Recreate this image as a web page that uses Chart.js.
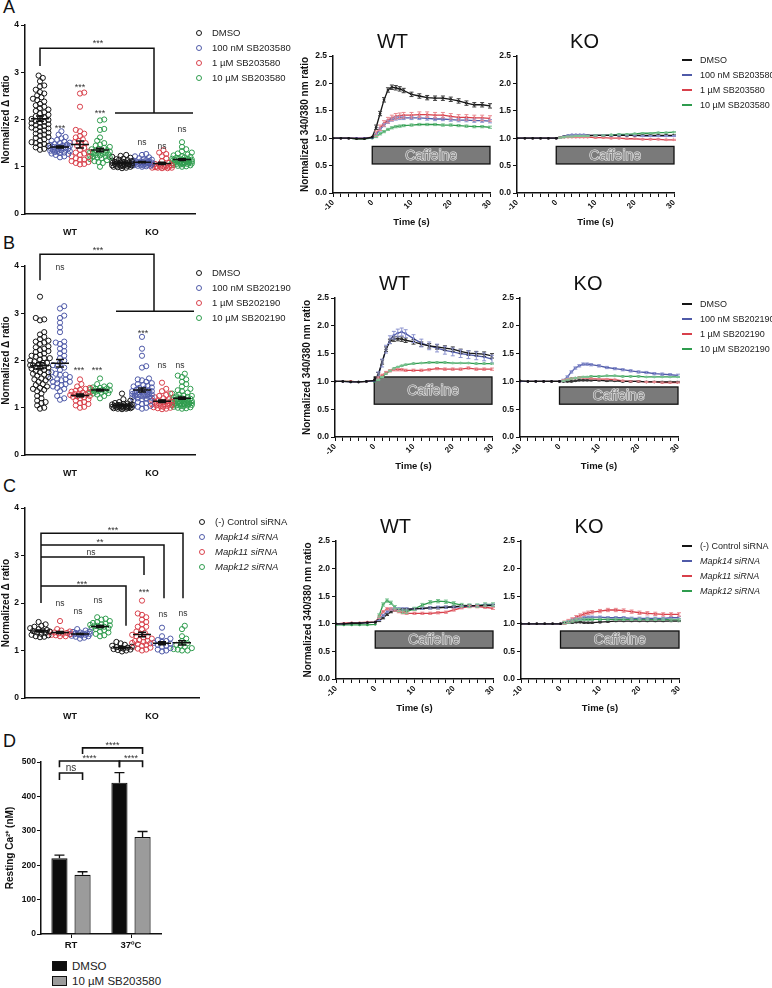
<!DOCTYPE html>
<html>
<head>
<meta charset="utf-8">
<script src="https://cdn.jsdelivr.net/npm/chart.js@4.4.1/dist/chart.umd.min.js"></script>
<style>
  body { margin: 0; background: #fff; width: 772px; height: 988px; position: relative; overflow: hidden; font-family: 'Liberation Sans', Arial, sans-serif; }
  canvas { position: absolute; }
  .panel { position: absolute; font-size: 18px; line-height: 18px; color: #111; }
  .leg { position: absolute; height: 14px; line-height: 14px; font-size: 9.5px; color: #222; white-space: nowrap; }
  .leg.lines { font-size: 9px; }
  .leg i { position: absolute; box-sizing: border-box; }
  .leg i.dot { left: 0; top: 4px; width: 6px; height: 6px; border: 1px solid; border-radius: 50%; }
  .leg i.dash { left: 0; top: 6px; width: 10px; height: 2px; }
  .leg i.sq { left: 0; top: 2px; width: 15px; height: 10px; border: 1.2px solid #111; }
  .leg span { position: absolute; }
</style>
</head>
<body>
<div class="panel" style="left:3px;top:-2px">A</div>
<div class="panel" style="left:3px;top:234px">B</div>
<div class="panel" style="left:3px;top:477px">C</div>
<div class="panel" style="left:3px;top:732px">D</div>
<script>
const scatterGroups = ['WT', 'KO'];
const sbA = ['DMSO', '100 nM SB203580', '1 µM SB203580', '10 µM SB203580'];
const sbB = ['DMSO', '100 nM SB202190', '1 µM SB202190', '10 µM SB202190'];
const sirna = ['(-) Control siRNA', 'Mapk14 siRNA', 'Mapk11 siRNA', 'Mapk12 siRNA'];

// panel A dot plot
const aWtDmso = [2.93, 2.88, 2.81, 2.72, 2.70, 2.63, 2.58, 2.55, 2.51, 2.47, 2.44, 2.41, 2.38, 2.33, 2.30, 2.27, 2.24, 2.21, 2.18, 2.15, 2.13, 2.10, 2.07, 2.05, 2.03, 2.01, 1.99, 1.97, 1.95, 1.93, 1.92, 1.90, 1.88, 1.86, 1.84, 1.83, 1.81, 1.79, 1.77, 1.75, 1.72, 1.70, 1.68, 1.66, 1.63, 1.61, 1.58, 1.55, 1.52, 1.50, 1.48, 1.46, 1.44, 1.41, 1.38, 1.36];
const aWtLow = [1.75, 1.68, 1.63, 1.60, 1.57, 1.55, 1.53, 1.51, 1.50, 1.48, 1.47, 1.46, 1.45, 1.44, 1.43, 1.42, 1.42, 1.41, 1.40, 1.40, 1.39, 1.38, 1.37, 1.36, 1.36, 1.35, 1.34, 1.33, 1.32, 1.31, 1.30, 1.29, 1.28, 1.27, 1.25, 1.22, 1.20];
const aWtMid = [2.57, 2.55, 2.27, 1.78, 1.75, 1.70, 1.65, 1.62, 1.58, 1.55, 1.52, 1.50, 1.47, 1.44, 1.40, 1.36, 1.32, 1.30, 1.28, 1.25, 1.22, 1.20, 1.18, 1.15, 1.15, 1.12, 1.10, 1.08, 1.06, 1.05];
const aWtHigh = [2.00, 1.98, 1.80, 1.78, 1.62, 1.55, 1.50, 1.47, 1.45, 1.42, 1.40, 1.38, 1.37, 1.35, 1.34, 1.33, 1.32, 1.31, 1.30, 1.29, 1.28, 1.27, 1.26, 1.25, 1.24, 1.23, 1.22, 1.21, 1.20, 1.19, 1.18, 1.16, 1.14, 1.12, 1.10, 1.08, 1.00];
const aKoDmso = [1.25, 1.23, 1.21, 1.19, 1.17, 1.16, 1.15, 1.14, 1.13, 1.12, 1.11, 1.10, 1.10, 1.09, 1.09, 1.08, 1.08, 1.07, 1.07, 1.06, 1.06, 1.05, 1.05, 1.04, 1.04, 1.03, 1.03, 1.02, 1.02, 1.01, 1.01, 1.00, 1.00, 0.99, 0.98, 0.97];
const aKoLow = [1.27, 1.25, 1.22, 1.20, 1.18, 1.16, 1.15, 1.14, 1.13, 1.12, 1.11, 1.11, 1.10, 1.10, 1.09, 1.09, 1.08, 1.08, 1.07, 1.07, 1.06, 1.06, 1.05, 1.05, 1.04, 1.04, 1.03, 1.03, 1.02, 1.02, 1.01, 1.00];
const aKoMid = [1.35, 1.30, 1.27, 1.22, 1.18, 1.12, 1.08, 1.06, 1.05, 1.04, 1.03, 1.02, 1.01, 1.00, 1.00, 0.99, 0.99, 0.98, 0.98, 0.97, 0.97, 0.98, 1.00];
const aKoHigh = [1.52, 1.42, 1.37, 1.33, 1.30, 1.28, 1.26, 1.24, 1.22, 1.21, 1.20, 1.19, 1.18, 1.17, 1.16, 1.15, 1.15, 1.14, 1.14, 1.13, 1.13, 1.12, 1.12, 1.11, 1.11, 1.10, 1.10, 1.09, 1.09, 1.08, 1.08, 1.07, 1.07, 1.06, 1.06, 1.05, 1.05, 1.04, 1.03, 1.02, 1.01, 1.00];

// panel B dot plot
const bWtDmso = [3.35, 2.90, 2.87, 2.85, 2.60, 2.55, 2.50, 2.45, 2.42, 2.40, 2.38, 2.35, 2.30, 2.28, 2.25, 2.22, 2.20, 2.18, 2.15, 2.12, 2.10, 2.08, 2.05, 2.05, 2.02, 2.00, 1.98, 1.95, 1.95, 1.92, 1.90, 1.90, 1.88, 1.86, 1.85, 1.85, 1.83, 1.80, 1.78, 1.75, 1.75, 1.72, 1.70, 1.68, 1.65, 1.62, 1.60, 1.58, 1.55, 1.50, 1.48, 1.45, 1.42, 1.40, 1.38, 1.35, 1.30, 1.25, 1.20, 1.15, 1.12, 1.10, 1.05, 1.00, 0.98];
const bWtLow = [3.15, 3.10, 2.95, 2.90, 2.80, 2.70, 2.60, 2.40, 2.38, 2.35, 2.30, 2.25, 2.20, 2.15, 2.10, 2.05, 2.00, 1.95, 1.90, 1.88, 1.85, 1.80, 1.75, 1.72, 1.70, 1.70, 1.65, 1.62, 1.60, 1.60, 1.58, 1.55, 1.55, 1.52, 1.50, 1.48, 1.45, 1.42, 1.40, 1.35, 1.25, 1.20, 1.17];
const bWtMid = [1.60, 1.50, 1.45, 1.42, 1.40, 1.38, 1.36, 1.34, 1.32, 1.31, 1.30, 1.29, 1.28, 1.27, 1.26, 1.25, 1.24, 1.23, 1.22, 1.20, 1.18, 1.15, 1.12, 1.10, 1.08, 1.05, 1.02, 1.00];
const bWtHigh = [1.62, 1.50, 1.47, 1.45, 1.43, 1.42, 1.41, 1.40, 1.39, 1.38, 1.37, 1.36, 1.36, 1.35, 1.34, 1.33, 1.32, 1.31, 1.30, 1.28, 1.25, 1.20];
const bKoDmso = [1.30, 1.18, 1.15, 1.12, 1.10, 1.09, 1.08, 1.07, 1.07, 1.06, 1.06, 1.05, 1.05, 1.04, 1.04, 1.03, 1.03, 1.02, 1.02, 1.02, 1.01, 1.01, 1.00, 1.00, 1.00, 0.99, 0.99, 0.98, 0.98, 0.97];
const bKoLow = [2.50, 2.25, 2.10, 1.88, 1.85, 1.62, 1.60, 1.58, 1.55, 1.52, 1.50, 1.48, 1.46, 1.45, 1.43, 1.42, 1.40, 1.38, 1.37, 1.36, 1.35, 1.35, 1.34, 1.33, 1.32, 1.30, 1.30, 1.29, 1.28, 1.27, 1.26, 1.25, 1.25, 1.24, 1.23, 1.22, 1.21, 1.20, 1.19, 1.18, 1.16, 1.14, 1.12, 1.10, 1.08, 1.06, 1.04, 1.02, 1.00, 0.98];
const bKoMid = [1.53, 1.40, 1.35, 1.30, 1.27, 1.25, 1.22, 1.20, 1.18, 1.16, 1.15, 1.14, 1.13, 1.12, 1.11, 1.10, 1.09, 1.08, 1.07, 1.06, 1.05, 1.04, 1.03, 1.02, 1.01, 1.00, 0.99, 0.98, 0.97];
const bKoHigh = [1.72, 1.68, 1.65, 1.60, 1.55, 1.50, 1.45, 1.40, 1.37, 1.35, 1.32, 1.30, 1.28, 1.26, 1.25, 1.24, 1.23, 1.22, 1.21, 1.20, 1.19, 1.18, 1.17, 1.16, 1.15, 1.15, 1.14, 1.14, 1.13, 1.13, 1.12, 1.12, 1.11, 1.11, 1.10, 1.10, 1.09, 1.09, 1.08, 1.08, 1.07, 1.07, 1.06, 1.06, 1.05, 1.05, 1.04, 1.03, 1.02, 1.01, 1.00, 0.99, 0.98];

// panel C dot plot (plot order: control, Mapk11, Mapk14, Mapk12)
const cWtCtrl = [1.60, 1.55, 1.52, 1.50, 1.47, 1.45, 1.43, 1.42, 1.41, 1.40, 1.38, 1.37, 1.35, 1.33, 1.32, 1.30, 1.29, 1.28];
const cWtMapk11 = [1.62, 1.45, 1.42, 1.40, 1.39, 1.38, 1.37, 1.36, 1.35, 1.34, 1.33, 1.32, 1.30, 1.30];
const cWtMapk14 = [1.45, 1.42, 1.40, 1.39, 1.38, 1.37, 1.36, 1.36, 1.35, 1.35, 1.34, 1.34, 1.33, 1.32, 1.31, 1.30, 1.29, 1.27, 1.25];
const cWtMapk12 = [1.70, 1.67, 1.65, 1.62, 1.60, 1.58, 1.56, 1.55, 1.54, 1.53, 1.52, 1.51, 1.50, 1.49, 1.48, 1.47, 1.45, 1.43, 1.40, 1.38, 1.35, 1.32, 1.30];
const cKoCtrl = [1.18, 1.15, 1.12, 1.10, 1.08, 1.07, 1.06, 1.05, 1.04, 1.03, 1.02, 1.01, 1.00, 0.98];
const cKoMapk11 = [2.05, 1.78, 1.75, 1.70, 1.65, 1.60, 1.55, 1.50, 1.50, 1.45, 1.40, 1.37, 1.35, 1.33, 1.30, 1.30, 1.28, 1.25, 1.22, 1.20, 1.20, 1.18, 1.16, 1.15, 1.14, 1.12, 1.10, 1.08, 1.06, 1.04, 1.02, 1.00];
const cKoMapk14 = [1.48, 1.30, 1.25, 1.22, 1.20, 1.18, 1.16, 1.14, 1.12, 1.10, 1.08, 1.05, 1.02, 1.00, 0.98];
const cKoMapk12 = [1.52, 1.45, 1.30, 1.25, 1.20, 1.15, 1.12, 1.10, 1.08, 1.05, 1.03, 1.02, 1.00, 1.00];

// calcium traces
const timeSec = [-10, -8, -6, -4, -2, 0, 1, 2, 3, 4, 5, 6, 7, 8, 10, 12, 14, 16, 18, 20, 22, 24, 26, 28, 30];
const aWtDmsoTrace = [1.00, 1.00, 1.00, 0.99, 0.99, 1.02, 1.20, 1.45, 1.70, 1.88, 1.93, 1.92, 1.90, 1.87, 1.80, 1.77, 1.74, 1.73, 1.73, 1.71, 1.68, 1.64, 1.61, 1.61, 1.59];
const aWtLowTrace = [1.00, 1.00, 1.00, 1.00, 1.00, 1.01, 1.06, 1.16, 1.24, 1.30, 1.34, 1.36, 1.37, 1.37, 1.37, 1.37, 1.36, 1.35, 1.35, 1.34, 1.33, 1.33, 1.32, 1.32, 1.31];
const aWtMidTrace = [1.00, 1.00, 1.00, 1.00, 1.00, 1.02, 1.08, 1.19, 1.27, 1.33, 1.37, 1.40, 1.41, 1.42, 1.42, 1.43, 1.43, 1.42, 1.42, 1.40, 1.38, 1.38, 1.37, 1.37, 1.36];
const aWtHighTrace = [1.00, 1.00, 1.00, 0.99, 0.99, 1.00, 1.03, 1.08, 1.12, 1.16, 1.19, 1.21, 1.22, 1.23, 1.24, 1.25, 1.25, 1.25, 1.24, 1.24, 1.23, 1.22, 1.21, 1.21, 1.20];
const aKoDmsoTrace = [1.00, 1.00, 1.00, 1.00, 1.00, 1.00, 1.01, 1.03, 1.04, 1.05, 1.05, 1.05, 1.05, 1.05, 1.05, 1.05, 1.05, 1.05, 1.05, 1.05, 1.05, 1.05, 1.05, 1.05, 1.05];
const aKoLowTrace = [1.00, 1.00, 1.00, 1.00, 1.00, 1.00, 1.01, 1.03, 1.05, 1.06, 1.06, 1.06, 1.06, 1.05, 1.05, 1.05, 1.05, 1.05, 1.05, 1.05, 1.04, 1.04, 1.04, 1.04, 1.04];
const aKoMidTrace = [1.00, 1.00, 1.00, 1.00, 1.00, 1.00, 1.01, 1.02, 1.02, 1.02, 1.02, 1.02, 1.02, 1.02, 1.01, 1.01, 1.00, 1.00, 0.99, 0.99, 0.98, 0.98, 0.98, 0.97, 0.97];
const aKoHighTrace = [1.00, 1.00, 1.00, 1.00, 1.00, 1.00, 1.01, 1.02, 1.03, 1.03, 1.04, 1.04, 1.04, 1.04, 1.05, 1.05, 1.06, 1.07, 1.07, 1.08, 1.09, 1.09, 1.10, 1.10, 1.11];
const bWtDmsoTrace = [1.00, 1.00, 0.99, 0.99, 1.00, 1.02, 1.12, 1.35, 1.58, 1.72, 1.76, 1.77, 1.76, 1.74, 1.71, 1.67, 1.64, 1.62, 1.60, 1.58, 1.54, 1.51, 1.50, 1.49, 1.46];
const bWtLowTrace = [1.00, 1.00, 0.99, 0.99, 1.00, 1.01, 1.10, 1.33, 1.58, 1.75, 1.83, 1.87, 1.89, 1.86, 1.77, 1.69, 1.64, 1.60, 1.56, 1.53, 1.50, 1.48, 1.46, 1.44, 1.40];
const bWtMidTrace = [1.00, 1.00, 1.00, 0.99, 1.00, 1.02, 1.06, 1.11, 1.16, 1.19, 1.21, 1.21, 1.21, 1.20, 1.20, 1.20, 1.21, 1.23, 1.22, 1.22, 1.22, 1.24, 1.22, 1.22, 1.22];
const bWtHighTrace = [1.00, 1.00, 1.00, 0.99, 1.00, 1.00, 1.03, 1.08, 1.14, 1.19, 1.23, 1.26, 1.28, 1.30, 1.32, 1.33, 1.34, 1.34, 1.34, 1.33, 1.33, 1.33, 1.32, 1.32, 1.32];
const bKoDmsoTrace = [1.01, 1.00, 1.00, 1.00, 1.00, 1.00, 1.00, 1.00, 1.00, 1.01, 1.02, 1.02, 1.02, 1.02, 1.02, 1.01, 1.01, 1.00, 1.00, 1.00, 0.99, 0.99, 0.99, 0.99, 0.99];
const bKoLowTrace = [1.00, 1.00, 1.00, 1.00, 1.00, 1.00, 1.02, 1.08, 1.17, 1.24, 1.28, 1.31, 1.31, 1.30, 1.28, 1.25, 1.23, 1.21, 1.19, 1.17, 1.16, 1.14, 1.13, 1.12, 1.11];
const bKoMidTrace = [1.00, 1.00, 1.00, 1.00, 1.00, 1.00, 1.02, 1.04, 1.05, 1.06, 1.07, 1.07, 1.06, 1.05, 1.04, 1.04, 1.03, 1.01, 1.00, 1.00, 0.99, 0.99, 0.98, 0.98, 0.98];
const bKoHighTrace = [1.00, 1.00, 1.00, 1.00, 1.00, 1.00, 1.01, 1.03, 1.05, 1.06, 1.07, 1.08, 1.08, 1.09, 1.09, 1.10, 1.10, 1.09, 1.09, 1.09, 1.08, 1.08, 1.08, 1.08, 1.08];
const cWtCtrlTrace = [1.00, 1.00, 1.01, 1.01, 1.02, 1.03, 1.06, 1.11, 1.17, 1.22, 1.25, 1.26, 1.26, 1.26, 1.27, 1.28, 1.29, 1.29, 1.30, 1.31, 1.32, 1.33, 1.33, 1.33, 1.33];
const cWtMapk14Trace = [1.00, 1.00, 1.01, 1.01, 1.02, 1.03, 1.08, 1.15, 1.22, 1.26, 1.27, 1.27, 1.27, 1.27, 1.27, 1.28, 1.29, 1.30, 1.30, 1.30, 1.31, 1.32, 1.33, 1.34, 1.34];
const cWtMapk11Trace = [1.00, 1.01, 1.02, 1.02, 1.03, 1.03, 1.12, 1.22, 1.27, 1.27, 1.25, 1.22, 1.20, 1.19, 1.19, 1.19, 1.19, 1.20, 1.21, 1.25, 1.29, 1.31, 1.31, 1.30, 1.28];
const cWtMapk12Trace = [0.98, 0.98, 0.98, 0.98, 0.98, 0.99, 1.15, 1.35, 1.42, 1.38, 1.30, 1.25, 1.22, 1.22, 1.27, 1.34, 1.39, 1.41, 1.40, 1.37, 1.34, 1.33, 1.33, 1.35, 1.35];
const cKoCtrlTrace = [1.00, 1.00, 1.00, 1.00, 1.00, 1.00, 1.01, 1.02, 1.02, 1.03, 1.03, 1.02, 1.02, 1.02, 1.03, 1.04, 1.05, 1.05, 1.05, 1.05, 1.05, 1.05, 1.05, 1.05, 1.05];
const cKoMapk14Trace = [1.00, 1.00, 1.00, 1.00, 1.00, 1.00, 1.02, 1.04, 1.07, 1.09, 1.10, 1.11, 1.12, 1.12, 1.12, 1.11, 1.11, 1.11, 1.10, 1.10, 1.10, 1.10, 1.10, 1.11, 1.11];
const cKoMapk11Trace = [1.00, 1.00, 1.00, 1.00, 1.00, 1.00, 1.02, 1.05, 1.08, 1.12, 1.15, 1.18, 1.20, 1.21, 1.23, 1.25, 1.25, 1.24, 1.22, 1.20, 1.19, 1.18, 1.17, 1.17, 1.17];
const cKoMapk12Trace = [1.00, 1.00, 1.00, 1.00, 1.00, 1.00, 1.02, 1.03, 1.05, 1.07, 1.08, 1.08, 1.08, 1.08, 1.08, 1.08, 1.08, 1.08, 1.08, 1.08, 1.08, 1.08, 1.08, 1.07, 1.07];
const aWtSem = [0.04, 0.03, 0.05, 0.02];
const aKoSem = [0.01, 0.01, 0.01, 0.01];
const bWtSem = [0.04, 0.07, 0.02, 0.01];
const bKoSem = [0.01, 0.02, 0.01, 0.01];
const cWtSem = [0.02, 0.02, 0.02, 0.03];
const cKoSem = [0.01, 0.02, 0.03, 0.02];

// panel D resting calcium
const tempLabels = ['RT', '37ºC'];
const dLegend = ['DMSO', '10 µM SB203580'];
const dDmso = [220, 440];
const dDmsoSem = [9, 29];
const dSb = [172, 282];
const dSbSem = [9, 16];

Chart.defaults.font.family = "'Liberation Sans', Arial, sans-serif";
Chart.defaults.color = '#111';

const INK = '#111';
const LINE = { k: '#151515', b: '#4f5aa8', r: '#d8404b', g: '#2f9c4e' };
const ERR = { k: '#3a3a3a', b: '#8d94cf', r: '#ea8a91', g: '#7cc493' };
const groupX = [0.75, 1.75, 2.75, 3.75, 4.85, 5.85, 6.85, 7.85];
const groupTicks = [2.25, 6.35];

function addCanvas(left, top, width, height) {
  const c = document.createElement('canvas');
  c.width = width;
  c.height = height;
  c.style.left = left + 'px';
  c.style.top = top + 'px';
  c.style.width = width + 'px';
  c.style.height = height + 'px';
  document.body.appendChild(c);
  return c;
}

function addLegend(x, y, names, colors, kind, italic) {
  names.forEach((name, i) => {
    const row = document.createElement('div');
    row.className = kind === 'dash' ? 'leg lines' : 'leg';
    row.style.left = x + 'px';
    row.style.top = (y + i * 15 - 7) + 'px';
    const style = kind === 'dot' ? `border-color:${colors[i]}` : `background:${colors[i]}`;
    const textLeft = kind === 'dot' ? 16 : kind === 'sq' ? 20 : 18;
    row.innerHTML = `<i class="${kind}" style="${style}"></i><span style="left:${textLeft}px;${italic && i > 0 ? 'font-style:italic' : ''}">${name}</span>`;
    if (kind === 'sq') row.style.fontSize = '11.5px';
    document.body.appendChild(row);
  });
}

// deterministic beeswarm layout: spreads equal values sideways
function swarm(values, center, pxX, pxY) {
  const offsets = [0];
  for (let k = 1; k <= 7; k++) offsets.push(k * 1.4, -k * 1.4);
  const placed = [];
  return values.slice().sort((a, b) => a - b).map((v) => {
    const py = v * pxY;
    let best = 0;
    let bestGap = -1;
    for (const off of offsets) {
      let gap = Infinity;
      placed.forEach((p) => { gap = Math.min(gap, Math.hypot(p.ox - off, p.py - py)); });
      if (gap >= 4.2) { best = off; break; }
      if (gap > bestGap) { bestGap = gap; best = off; }
    }
    placed.push({ ox: best, py });
    return { x: center + best / pxX, y: v };
  });
}

const meanSem = {
  id: 'meanSem',
  afterDatasetsDraw(chart) {
    const { ctx, scales: { x, y } } = chart;
    ctx.save();
    ctx.strokeStyle = INK;
    ctx.lineWidth = 1.5;
    chart.data.datasets.forEach((ds) => {
      const n = ds.values.length;
      const mean = ds.values.reduce((a, b) => a + b, 0) / n;
      const sd = Math.sqrt(ds.values.reduce((a, b) => a + (b - mean) ** 2, 0) / (n - 1));
      const sem = sd / Math.sqrt(n);
      const cx = x.getPixelForValue(ds.center);
      const ym = y.getPixelForValue(mean);
      const yt = y.getPixelForValue(mean + sem);
      const yb = y.getPixelForValue(mean - sem);
      ctx.beginPath();
      ctx.moveTo(cx - 9, ym); ctx.lineTo(cx + 9, ym);
      ctx.moveTo(cx, yt); ctx.lineTo(cx, yb);
      ctx.moveTo(cx - 4, yt); ctx.lineTo(cx + 4, yt);
      ctx.moveTo(cx - 4, yb); ctx.lineTo(cx + 4, yb);
      ctx.stroke();
    });
    ctx.restore();
  }
};

function marks(lines, labels) {
  return {
    id: 'marks',
    afterDraw(chart) {
      const { ctx, scales: { x, y } } = chart;
      ctx.save();
      ctx.strokeStyle = INK;
      ctx.lineWidth = 1.5;
      lines.forEach((pts) => {
        ctx.beginPath();
        pts.forEach(([px, py], i) => {
          const X = x.getPixelForValue(px);
          const Y = y.getPixelForValue(py);
          if (i) ctx.lineTo(X, Y); else ctx.moveTo(X, Y);
        });
        ctx.stroke();
      });
      ctx.fillStyle = '#333';
      ctx.textAlign = 'center';
      ctx.textBaseline = 'middle';
      labels.forEach(([px, py, t]) => {
        ctx.font = t === 'ns' ? "8.5px 'Liberation Sans', Arial" : "9px 'Liberation Sans', Arial";
        ctx.fillText(t, x.getPixelForValue(px), y.getPixelForValue(py) + (t === 'ns' ? 0 : 2));
      });
      ctx.restore();
    }
  };
}

function dotPlot(rect, xMax, groups, colors, lines, labels) {
  const top = rect.t - 25;
  const cv = addCanvas(0, top, rect.r + 5, rect.b + 22 - top);
  const pxX = (rect.r - rect.l) / xMax;
  const pxY = (rect.b - rect.t) / 4;
  const datasets = groups.map((vals, i) => ({
    data: swarm(vals, groupX[i], pxX, pxY),
    values: vals,
    center: groupX[i],
    pointRadius: 2.6,
    pointBorderWidth: 1,
    borderColor: colors[i],
    backgroundColor: 'rgba(0,0,0,0)'
  }));
  new Chart(cv, {
    type: 'scatter',
    data: { datasets },
    options: {
      responsive: false,
      animation: false,
      devicePixelRatio: 1,
      layout: { padding: { top: 25, right: 5, left: 0, bottom: 0 } },
      plugins: { legend: { display: false }, tooltip: { enabled: false } },
      scales: {
        x: {
          type: 'linear', min: 0, max: xMax,
          afterFit: (s) => { s.height = 22; },
          afterBuildTicks: (s) => { s.ticks = groupTicks.map((v) => ({ value: v })); },
          ticks: { callback: (v, i) => scatterGroups[i], autoSkip: false, maxRotation: 0, padding: 5, font: { size: 9, weight: 'bold' } },
          grid: { display: false },
          border: { color: INK, width: 1.5 }
        },
        y: {
          min: 0, max: 4,
          afterFit: (s) => { s.width = rect.l; },
          ticks: { stepSize: 1, padding: 2, font: { size: 8.5, weight: 'bold' } },
          grid: { drawOnChartArea: false, tickLength: 4, color: INK },
          border: { color: INK, width: 1.5 },
          title: { display: true, text: 'Normalized Δ ratio', font: { size: 10, weight: 'bold' }, padding: { top: 0, bottom: 2 } }
        }
      }
    },
    plugins: [meanSem, marks(lines, labels)]
  });
}

const errorBars = {
  id: 'errorBars',
  afterDatasetsDraw(chart) {
    const { ctx, scales: { y } } = chart;
    ctx.save();
    ctx.lineWidth = 1;
    chart.data.datasets.forEach((ds, i) => {
      const meta = chart.getDatasetMeta(i);
      ctx.strokeStyle = ds.errColor;
      ctx.beginPath();
      meta.data.forEach((pt, k) => {
        if (ds.data[k].x < 1) return;
        const v = ds.data[k].y;
        const yt = y.getPixelForValue(v + ds.sem);
        const yb = y.getPixelForValue(v - ds.sem);
        ctx.moveTo(pt.x, yt); ctx.lineTo(pt.x, yb);
        ctx.moveTo(pt.x - 2, yt); ctx.lineTo(pt.x + 2, yt);
        ctx.moveTo(pt.x - 2, yb); ctx.lineTo(pt.x + 2, yb);
      });
      ctx.stroke();
    });
    ctx.restore();
  }
};

function caffeine(yTop, yBottom) {
  return {
    id: 'caffeine',
    beforeDatasetsDraw(chart) {
      const { ctx, scales: { x, y } } = chart;
      const x0 = x.getPixelForValue(0);
      const x1 = x.getPixelForValue(30);
      const y0 = y.getPixelForValue(yTop);
      const y1 = y.getPixelForValue(yBottom);
      ctx.save();
      ctx.fillStyle = '#7a7a7a';
      ctx.strokeStyle = INK;
      ctx.lineWidth = 1.3;
      ctx.fillRect(x0, y0, x1 - x0, y1 - y0);
      ctx.strokeRect(x0, y0, x1 - x0, y1 - y0);
      ctx.font = "14px 'Liberation Sans', Arial";
      ctx.textAlign = 'center';
      ctx.textBaseline = 'middle';
      ctx.lineWidth = 1.1;
      ctx.strokeStyle = '#eeeeee';
      ctx.strokeText('Caffeine', (x0 + x1) / 2, (y0 + y1) / 2 + 1);
      ctx.fillStyle = '#8c8c8c';
      ctx.fillText('Caffeine', (x0 + x1) / 2, (y0 + y1) / 2 + 1);
      ctx.restore();
    }
  };
}

function traceChart(rect, yw, title, series, sem, keys, box, yTitle) {
  const left = rect.l - yw;
  const top = rect.t - 28;
  const cv = addCanvas(left, top, rect.r - left + 10, rect.b + 39 - top);
  const datasets = series.map((vals, i) => ({
    data: vals.map((v, k) => ({ x: timeSec[k], y: v })),
    sem: sem[i],
    errColor: ERR[keys[i]],
    borderColor: LINE[keys[i]],
    backgroundColor: LINE[keys[i]],
    borderWidth: 1.3,
    pointRadius: 1.3,
    pointBorderWidth: 0,
    tension: 0
  }));
  new Chart(cv, {
    type: 'line',
    data: { datasets },
    options: {
      responsive: false,
      animation: false,
      devicePixelRatio: 1,
      layout: { padding: { top: 2, right: 10, left: 0, bottom: 0 } },
      plugins: {
        legend: { display: false },
        tooltip: { enabled: false },
        title: { display: true, text: title, color: INK, font: { size: 20, weight: 'normal' }, padding: { top: 0, bottom: 2 } }
      },
      scales: {
        x: {
          type: 'linear', min: -10, max: 30,
          afterFit: (s) => { s.height = 39; },
          ticks: { stepSize: 2, autoSkip: false, minRotation: 45, maxRotation: 45, padding: 1, callback: (v) => (v % 10 === 0 ? String(v) : ''), font: { size: 8, weight: 'bold' } },
          grid: { drawOnChartArea: false, tickLength: 4, color: INK },
          border: { color: INK, width: 1.5 },
          title: { display: true, text: 'Time (s)', font: { size: 9.5, weight: 'bold' }, padding: { top: 0, bottom: 4 } }
        },
        y: {
          min: 0, max: 2.5,
          afterFit: (s) => { s.width = yw; },
          ticks: { stepSize: 0.5, padding: 2, callback: (v) => v.toFixed(1), font: { size: 8.5, weight: 'bold' } },
          grid: { drawOnChartArea: false, tickLength: 4, color: INK },
          border: { color: INK, width: 1.5 },
          title: { display: !!yTitle, text: yTitle || '', font: { size: 10, weight: 'bold' }, padding: { top: 4, bottom: 0 } }
        }
      }
    },
    plugins: [caffeine(box[0], box[1]), errorBars]
  });
}

// A
dotPlot({ l: 25, t: 25, r: 195, b: 214 }, 8.5,
  [aWtDmso, aWtLow, aWtMid, aWtHigh, aKoDmso, aKoLow, aKoMid, aKoHigh],
  [LINE.k, LINE.b, LINE.r, LINE.g, LINE.k, LINE.b, LINE.r, LINE.g],
  [[[0.75, 3.13], [0.75, 3.51], [6.45, 3.51], [6.45, 2.14]], [[4.5, 2.14], [8.4, 2.14]]],
  [[3.65, 3.64, '***'], [1.75, 1.86, '***'], [2.75, 2.72, '***'], [3.75, 2.17, '***'], [5.85, 1.52, 'ns'], [6.85, 1.42, 'ns'], [7.85, 1.78, 'ns']]);
traceChart({ l: 333, t: 56, r: 490, b: 193 }, 38, 'WT', [aWtDmsoTrace, aWtLowTrace, aWtMidTrace, aWtHighTrace], aWtSem, ['k', 'b', 'r', 'g'], [0.85, 0.53], 'Normalized 340/380 nm ratio');
traceChart({ l: 517, t: 56, r: 674, b: 193 }, 22, 'KO', [aKoDmsoTrace, aKoLowTrace, aKoMidTrace, aKoHighTrace], aKoSem, ['k', 'b', 'r', 'g'], [0.85, 0.53]);
addLegend(196, 33, sbA, [LINE.k, LINE.b, LINE.r, LINE.g], 'dot');
addLegend(682, 60, sbA, [LINE.k, LINE.b, LINE.r, LINE.g], 'dash');

// B
dotPlot({ l: 25, t: 266, r: 195, b: 455 }, 8.5,
  [bWtDmso, bWtLow, bWtMid, bWtHigh, bKoDmso, bKoLow, bKoMid, bKoHigh],
  [LINE.k, LINE.b, LINE.r, LINE.g, LINE.k, LINE.b, LINE.r, LINE.g],
  [[[0.75, 3.7], [0.75, 4.25], [6.45, 4.25], [6.45, 3.04]], [[4.55, 3.04], [8.45, 3.04]]],
  [[3.65, 4.36, '***'], [1.75, 3.97, 'ns'], [2.7, 1.84, '***'], [3.6, 1.84, '***'], [5.9, 2.62, '***'], [6.85, 1.9, 'ns'], [7.75, 1.9, 'ns']]);
traceChart({ l: 335, t: 298, r: 492, b: 437 }, 38, 'WT', [bWtDmsoTrace, bWtLowTrace, bWtMidTrace, bWtHighTrace], bWtSem, ['k', 'b', 'r', 'g'], [1.08, 0.59], 'Normalized 340/380 nm ratio');
traceChart({ l: 520, t: 298, r: 678, b: 437 }, 22, 'KO', [bKoDmsoTrace, bKoLowTrace, bKoMidTrace, bKoHighTrace], bKoSem, ['k', 'b', 'r', 'g'], [0.9, 0.59]);
addLegend(196, 273, sbB, [LINE.k, LINE.b, LINE.r, LINE.g], 'dot');
addLegend(682, 304, sbB, [LINE.k, LINE.b, LINE.r, LINE.g], 'dash');

// C
dotPlot({ l: 25, t: 508, r: 199, b: 698 }, 8.7,
  [cWtCtrl, cWtMapk11, cWtMapk14, cWtMapk12, cKoCtrl, cKoMapk11, cKoMapk14, cKoMapk12],
  [LINE.k, LINE.r, LINE.b, LINE.g, LINE.k, LINE.r, LINE.b, LINE.g],
  [[[0.8, 2.0], [0.8, 3.47], [7.9, 3.47], [7.9, 2.1]],
   [[0.8, 3.22], [6.95, 3.22], [6.95, 2.1]],
   [[0.8, 2.97], [5.95, 2.97], [5.95, 2.59]],
   [[0.8, 2.36], [5.05, 2.36], [5.05, 1.52]]],
  [[4.4, 3.56, '***'], [3.75, 3.32, '**'], [3.3, 3.05, 'ns'], [2.85, 2.44, '***'], [1.75, 1.98, 'ns'], [2.65, 1.81, 'ns'], [3.65, 2.04, 'ns'], [5.95, 2.27, '***'], [6.9, 1.75, 'ns'], [7.9, 1.77, 'ns']]);
traceChart({ l: 336, t: 541, r: 493, b: 679 }, 38, 'WT', [cWtCtrlTrace, cWtMapk14Trace, cWtMapk11Trace, cWtMapk12Trace], cWtSem, ['k', 'b', 'r', 'g'], [0.87, 0.56], 'Normalized 340/380 nm ratio');
traceChart({ l: 521, t: 541, r: 679, b: 679 }, 22, 'KO', [cKoCtrlTrace, cKoMapk14Trace, cKoMapk11Trace, cKoMapk12Trace], cKoSem, ['k', 'b', 'r', 'g'], [0.87, 0.56]);
addLegend(199, 522, sirna, [LINE.k, LINE.b, LINE.r, LINE.g], 'dot', true);
addLegend(682, 546, sirna, [LINE.k, LINE.b, LINE.r, LINE.g], 'dash', true);

// D
const dBrackets = [
  { a: [0, 0], b: [1, 0], y: 468, leg: 448, text: 'ns', ty: 483 },
  { a: [0, 0], b: [0, 1], y: 503, leg: 485, text: '****', ty: 517 },
  { a: [0, 1], b: [1, 1], y: 503, leg: 485, text: '****', ty: 517 },
  { a: [1, 0], b: [1, 1], y: 541, leg: 523, text: '****', ty: 555 }
];
const barExtras = {
  id: 'barExtras',
  afterDraw(chart) {
    const { ctx, scales: { y } } = chart;
    const px = ([ds, i]) => chart.getDatasetMeta(ds).data[i].x;
    ctx.save();
    ctx.strokeStyle = INK;
    ctx.lineWidth = 1.3;
    chart.data.datasets.forEach((ds, d) => {
      chart.getDatasetMeta(d).data.forEach((bar, i) => {
        const yt = y.getPixelForValue(ds.data[i] + ds.sem[i]);
        ctx.beginPath();
        ctx.moveTo(bar.x, bar.y); ctx.lineTo(bar.x, yt);
        ctx.moveTo(bar.x - 5, yt); ctx.lineTo(bar.x + 5, yt);
        ctx.stroke();
      });
    });
    ctx.lineWidth = 1.6;
    ctx.textAlign = 'center';
    ctx.textBaseline = 'middle';
    ctx.fillStyle = '#333';
    dBrackets.forEach((br) => {
      const xa = px(br.a);
      const xb = px(br.b);
      const yl = y.getPixelForValue(br.y);
      const yg = y.getPixelForValue(br.leg);
      ctx.beginPath();
      ctx.moveTo(xa, yg); ctx.lineTo(xa, yl); ctx.lineTo(xb, yl); ctx.lineTo(xb, yg);
      ctx.stroke();
      ctx.font = br.text === 'ns' ? "10px 'Liberation Sans', Arial" : "9px 'Liberation Sans', Arial";
      ctx.fillText(br.text, (xa + xb) / 2, y.getPixelForValue(br.ty) + (br.text === 'ns' ? 0 : 2));
    });
    ctx.restore();
  }
};
const dCanvas = addCanvas(0, 735, 170, 220);
new Chart(dCanvas, {
  type: 'bar',
  data: {
    labels: tempLabels,
    datasets: [
      { data: dDmso, sem: dDmsoSem, backgroundColor: '#0d0d0d', borderColor: INK, borderWidth: 1.2 },
      { data: dSb, sem: dSbSem, backgroundColor: '#9b9b9b', borderColor: INK, borderWidth: 1.2 }
    ]
  },
  options: {
    responsive: false,
    animation: false,
    devicePixelRatio: 1,
    categoryPercentage: 0.77,
    barPercentage: 0.7,
    layout: { padding: { top: 27, right: 9, left: 0, bottom: 0 } },
    plugins: { legend: { display: false }, tooltip: { enabled: false } },
    scales: {
      x: {
        afterFit: (s) => { s.height = 21; },
        ticks: { padding: 2, font: { size: 9.5, weight: 'bold' } },
        grid: { drawOnChartArea: false, offset: false, tickLength: 4, color: INK },
        border: { color: INK, width: 1.5 }
      },
      y: {
        min: 0, max: 500,
        afterFit: (s) => { s.width = 41; },
        ticks: { stepSize: 100, padding: 1, font: { size: 8.5, weight: 'bold' } },
        grid: { drawOnChartArea: false, tickLength: 4, color: INK },
        border: { color: INK, width: 1.5 },
        title: { display: true, text: 'Resting Ca²⁺ (nM)', font: { size: 10, weight: 'bold' }, padding: { top: 4, bottom: 0 } }
      }
    }
  },
  plugins: [barExtras]
});
addLegend(52, 966, dLegend, ['#0d0d0d', '#9b9b9b'], 'sq');
</script>
</body>
</html>
